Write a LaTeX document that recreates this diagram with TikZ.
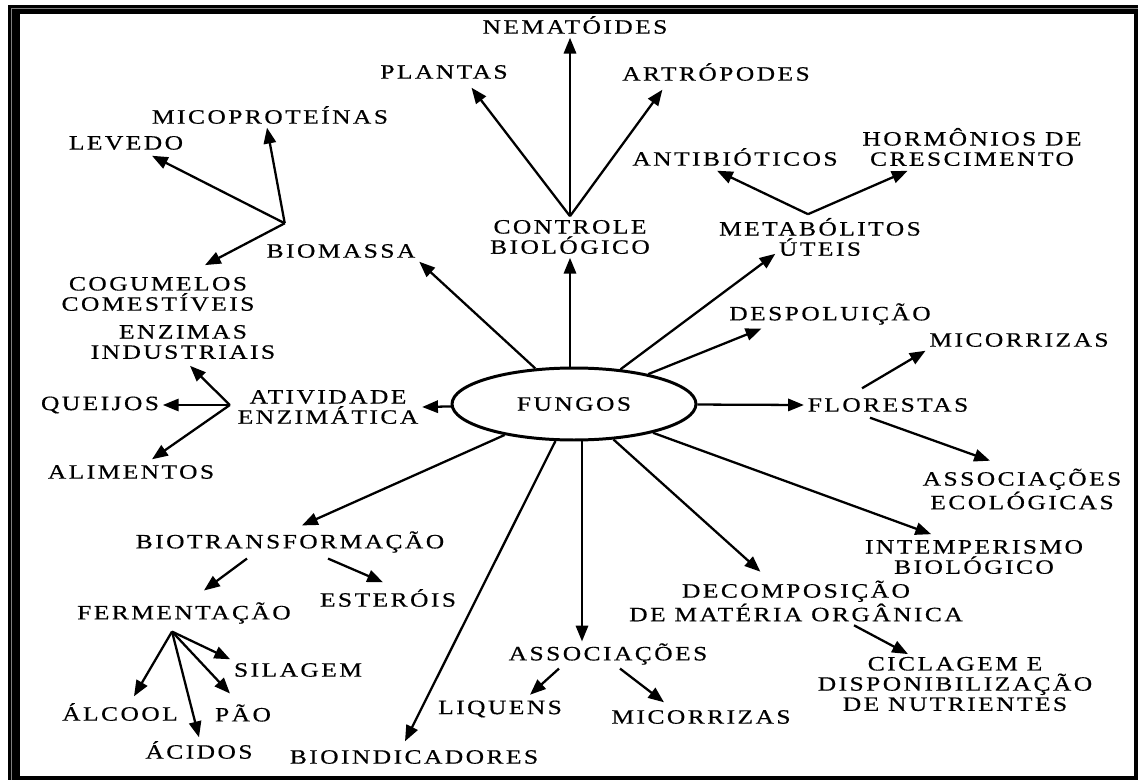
\documentclass[tikz,border=0pt]{standalone}
\usepackage{fontspec}
\setmainfont{Liberation Serif}[FakeStretch=1.25,LetterSpace=12,FakeBold=0.5]
\usetikzlibrary{arrows.meta,calc,shapes.geometric}

\begin{document}
\begin{tikzpicture}[x=0.02cm, y=-0.02cm,
    lbl/.style={align=center, inner sep=2pt, font=\fontsize{11.6}{11.5}\selectfont},
    arr/.style={-{Triangle[length=9pt,width=7pt]}, line width=1.3pt}]
    \useasboundingbox (0,0) rectangle (1138,780);
    % Frame
    \fill (8,5) rectangle (1138,780);
    \fill[white] (20,14) rectangle (1134,776);
    \draw[gray, line width=0.5pt] (11.5,780) -- (11.5,8.5) -- (1138,8.5);

    % Nodes with manual coordinates
    \node[lbl, ellipse, draw, line width=1.7pt, minimum width=4.88cm, minimum height=1.44cm] (fun) at (574,404) {FUNGOS};
    \node[lbl] (nem) at (575,25) {NEMATÓIDES};
    \node[lbl] (pla) at (444,72) {PLANTAS};
    \node[lbl] (art) at (716,72) {ARTRÓPODES};
    \node[lbl] (micp) at (270,115) {MICOPROTEÍNAS};
    \node[lbl] (lev) at (126,143) {LEVEDO};
    \node[lbl] (hor) at (972,147) {HORMÔNIOS DE\\CRESCIMENTO};
    \node[lbl] (ant) at (735,157) {ANTIBIÓTICOS};
    \node[lbl] (ctrl) at (570,237) {CONTROLE\\BIOLÓGICO};
    \node[lbl] (meta) at (820,237) {METABÓLITOS\\ÚTEIS};
    \node[lbl] (bio) at (341,251) {BIOMASSA};
    \node[lbl] (cog) at (158,294) {COGUMELOS\\COMESTÍVEIS};
    \node[lbl] (desp) at (830,314) {DESPOLUIÇÃO};
    \node[lbl] (enz) at (183,342) {ENZIMAS\\INDUSTRIAIS};
    \node[lbl] (micr) at (1019,340) {MICORRIZAS};
    \node[lbl] (que) at (100,405) {QUEIJOS};
    \node[lbl] (ativ) at (328,407) {ATIVIDADE\\ENZIMÁTICA};
    \node[lbl] (flo) at (888,405) {FLORESTAS};
    \node[lbl] (ali) at (131,472) {ALIMENTOS};
    \node[lbl] (asse) at (1022,489) {ASSOCIAÇÕES\\ECOLÓGICAS};
    \node[lbl] (biot) at (290,542) {BIOTRANSFORMAÇÃO};
    \node[lbl] (intem) at (974,557) {INTEMPERISMO\\BIOLÓGICO};
    \node[lbl] (este) at (388,598) {ESTERÓIS};
    \node[lbl] (decomp) at (796,601) {DECOMPOSIÇÃO\\DE MATÉRIA ORGÂNICA};
    \node[lbl] (ferm) at (184,613) {FERMENTAÇÃO};
    \node[lbl] (assoc) at (608,654) {ASSOCIAÇÕES};
    \node[lbl] (sil) at (298,670) {SILAGEM};
    \node[lbl] (cicl) at (955,684) {CICLAGEM E\\DISPONIBILIZAÇÃO\\DE NUTRIENTES};
    \node[lbl] (liq) at (500,709) {LIQUENS};
    \node[lbl] (alc) at (120,712) {ÁLCOOL};
    \node[lbl] (pao) at (243,713) {PÃO};
    \node[lbl] (micb) at (701,717) {MICORRIZAS};
    \node[lbl] (aci) at (199,750) {ÁCIDOS};
    \node[lbl] (bioi) at (414,757) {BIOINDICADORES};

    % Branch points
    \coordinate (bfan) at ($(bio.north west)+(22,-17)$);
    \coordinate (mfan) at ($(meta.north)+(-12,0)$);
    \coordinate (afan) at ($(ativ.west)+(-4,-2)$);
    \coordinate (ffan) at ($(ferm.south)+(-12,4)$);

    % Edges
    \draw[arr] (fun) -- (bio.south east);
    \draw[arr] (ctrl.south |- fun.north) -- (ctrl.south);
    \draw[arr] (fun) -- ($(meta.south west)+(60,-6)$);
    \draw[arr] (fun) -- ($(desp.south west)+(36,0)$);
    \draw[arr] (fun) -- (flo.west);
    \draw[arr] (fun) -- ($(intem.north west)+(70,-2)$);
    \draw[arr] (fun) -- ($(decomp.north west)+(135,-5)$);
    \draw[arr] ($(fun.south)+(8,0)$) -- ($(assoc.north)+(-26,2)$);
    \draw[arr] (fun) -- ($(bioi.north)+(-9,-5)$);
    \draw[arr] (fun) -- ($(biot.north)+(12,-2)$);
    \draw[arr] (fun) -- (ativ.east);

    \draw[arr] (bfan) -- ($(micp.south)+(-3,0)$);
    \draw[arr] (bfan) -- ($(lev.south)+(26,2)$);
    \draw[arr] (bfan) -- ($(cog.north)+(47,-8)$);

    \draw[arr] (ctrl.north) -- (ctrl.north |- nem.south);
    \draw[arr] (ctrl.north) -- ($(pla.south east)+(-40,5)$);
    \draw[arr] (ctrl.north) -- ($(art.south west)+(44,5)$);

    \draw[arr] (mfan) -- ($(ant.south)+(-18,1)$);
    \draw[arr] (mfan) -- ($(hor.south west)+(49,1)$);

    \draw[arr] ($(flo.north)+(-26,-6)$) -- (micr.south west);
    \draw[arr] ($(flo.south)+(-18,2)$) -- ($(asse.north)+(-32,-4)$);

    \draw[arr] ($(decomp.south)+(58,0)$) -- ($(cicl.north)+(-47,1)$);

    \draw[arr] ($(assoc.south)+(-49,0)$) -- ($(liq.north)+(30,-2)$);
    \draw[arr] ($(assoc.south)+(12,0)$) -- ($(micb.north)+(-37,-4)$);

    \draw[arr] ($(biot.south)+(-43,2)$) -- ($(ferm.north)+(20,-8)$);
    \draw[arr] ($(biot.south)+(38,2)$) -- ($(este.north)+(-5,-3)$);

    \draw[arr] (ffan) -- (sil.north west);
    \draw[arr] (ffan) -- ($(pao.north)+(-13,-7)$);
    \draw[arr] (ffan) -- (aci.north);
    \draw[arr] (ffan) -- ($(alc.north)+(14,-3)$);

    \draw[arr] (afan) -- (que.east);
    \draw[arr] (afan) -- ($(enz.south)+(7,3)$);
    \draw[arr] (afan) -- ($(ali.north)+(21,-2)$);
\end{tikzpicture}
\end{document}
